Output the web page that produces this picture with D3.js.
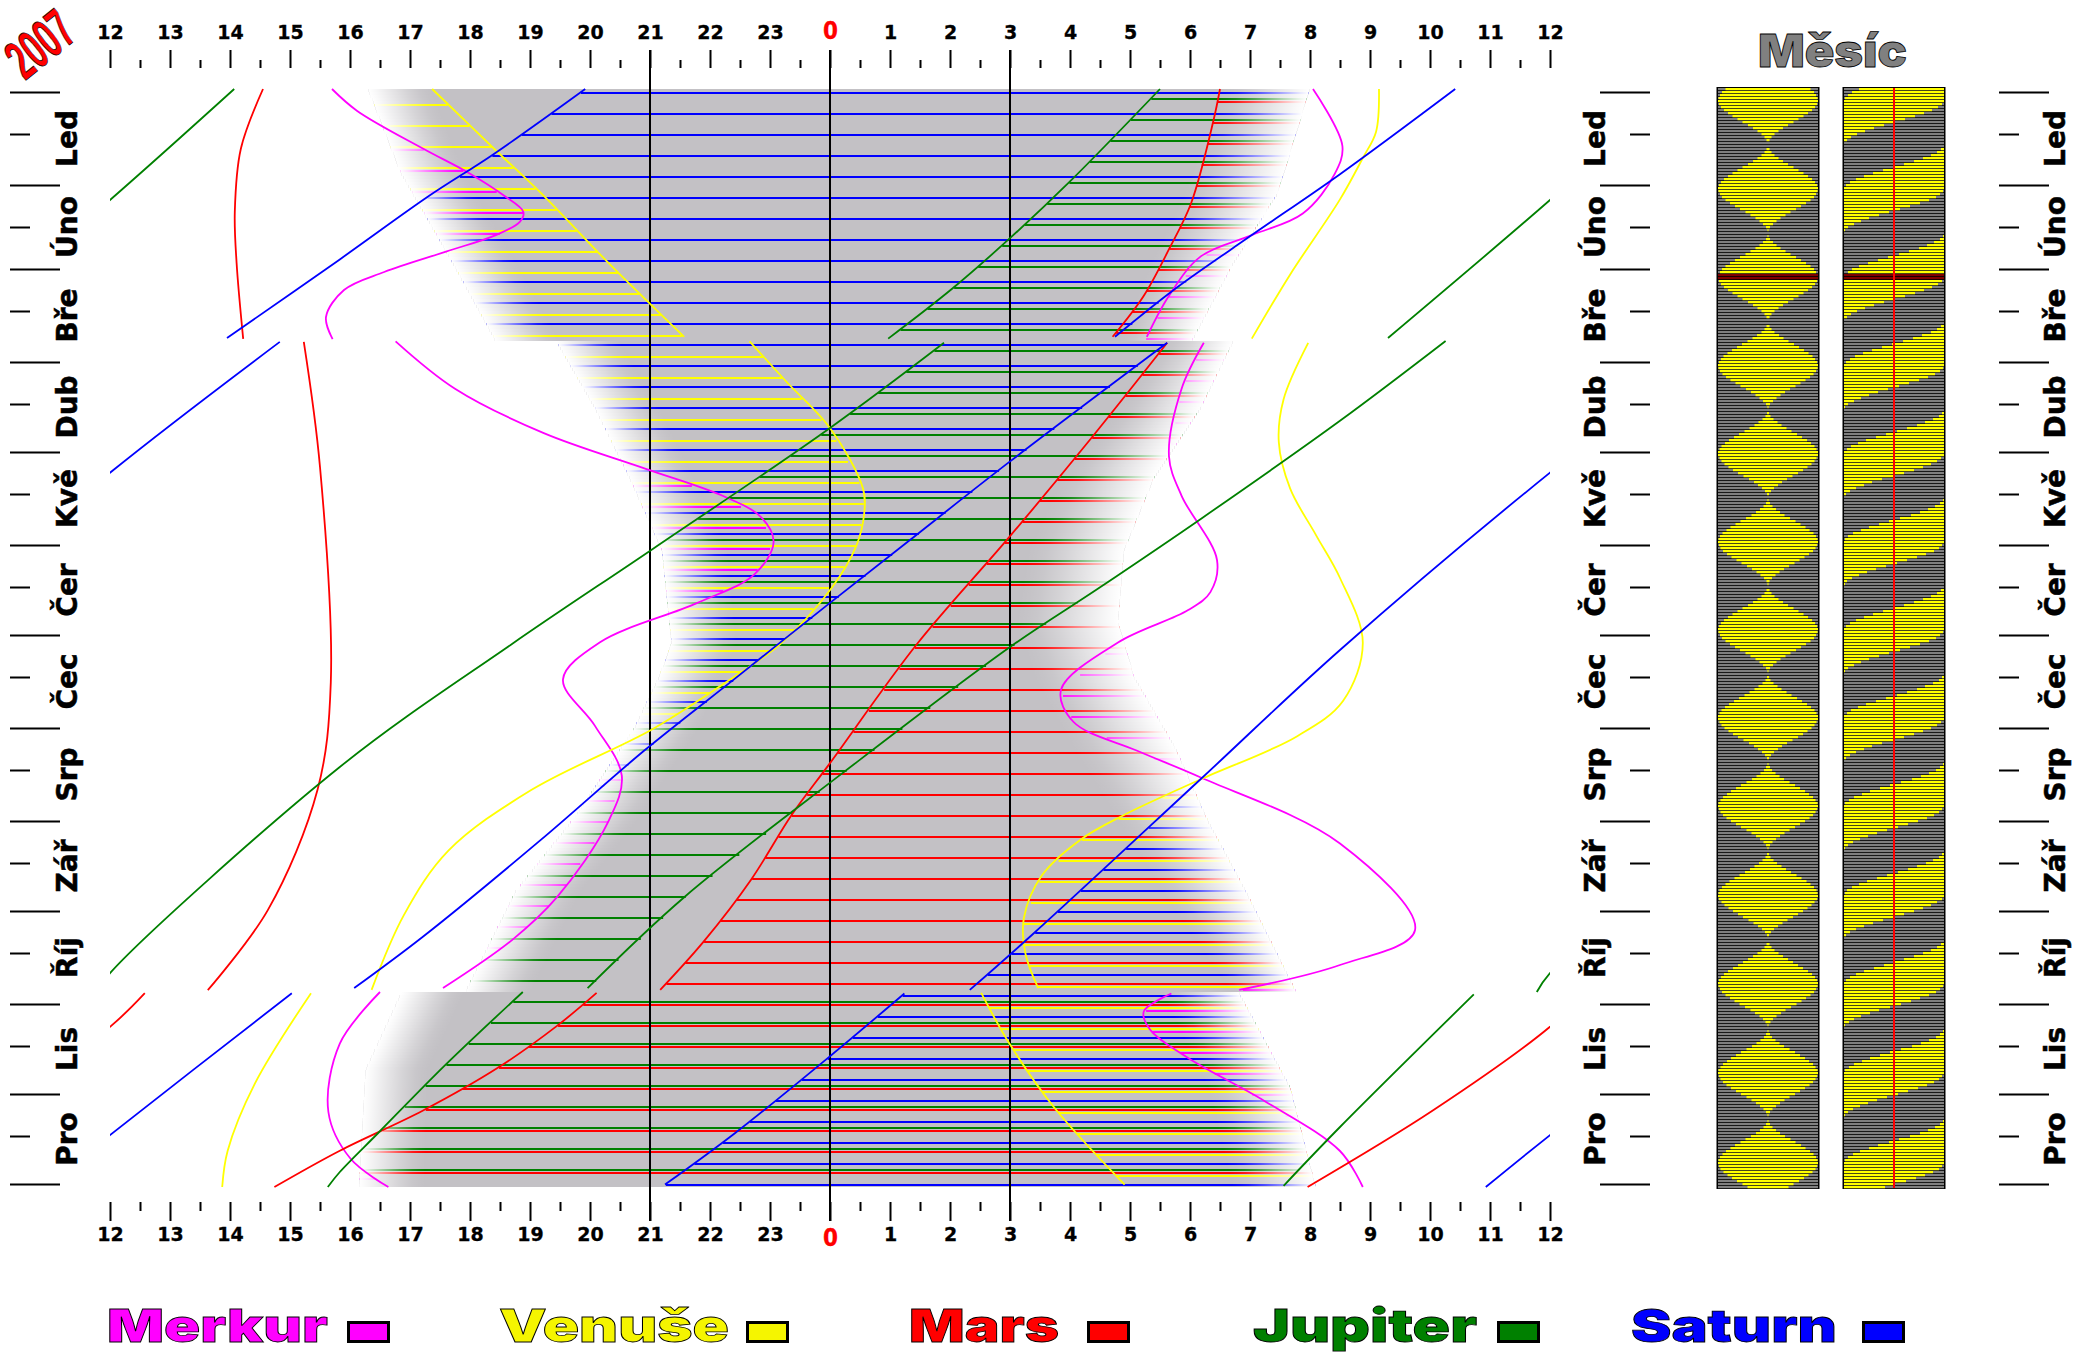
<!DOCTYPE html>
<html><head><meta charset="utf-8">
<script src="https://cdn.jsdelivr.net/npm/d3@7"></script>
<style>html,body{margin:0;padding:0;background:#fff}svg{display:block}text{font-family:"DejaVu Sans",sans-serif;font-weight:bold}</style>
</head><body><svg id="c" width="2096" height="1361"></svg>
<script>
// Hour labels and months
const hourLabels=[12,13,14,15,16,17,18,19,20,21,22,23,0,1,2,3,4,5,6,7,8,9,10,11,12];
const hourTicks=d3.range(-12,13);
const halfTicks=d3.range(-11.5,12,1);
const guideHours=[-3,0,3];
const monthNames=["Led","Úno","Bře","Dub","Kvě","Čer","Čec","Srp","Zář","Říj","Lis","Pro"];
const monthStarts=[0,31,59,90,120,151,181,212,243,273,304,334,364];
const monthMids=[14,45,73,104,134,165,195,226,257,287,318,348];
// Each planet curve: three parts split by the clock change, points are [day of year, hour from midnight]
const saturnRise=[[[-1,-4.08],[20.9,-5.62],[34.6,-6.68],[55.8,-8.17],[82,-10.05]],
 [[83.3,-9.17],[126.9,-12],[186,-15.5],[229,-17.82],[280,-20.58],[299.3,-21.67]],
 [[300.5,1.24],[321.4,0],[347,-1.58],[364.2,-2.75]]];
const saturnSet=[[[-1,10.42],[27.4,8.5],[47.7,7.03],[65.5,5.76],[81.6,4.75]],
 [[83.6,5.62],[123.3,2.99],[150,1.29],[170.3,0],[184.3,-.88],[195.8,-1.6],[219.6,-3.1],[249.3,-4.82],[281.5,-6.78],[298.7,-7.93]],
 [[300.4,-8.97],[347.7,-12],[365,-13.07]]];
const jupiterRise=[[[-1,5.5],[29.8,4],[48.9,2.99],[65.5,2.04],[82.2,.97]],
 [[83.6,1.9],[112,0],[152.4,-2.96],[184,-5.3],[225,-8.17],[293.7,-12],[300,-12.22]],
 [[300,-5.12],[324.3,-6.41],[347,-7.53],[360,-8.17],[365,-8.37]]];
const jupiterSet=[[[-1,-9.93],[36,-12],[82,-14.7]],
 [[83,10.26],[109.6,8.5],[142.3,6.18],[165.5,4.47],[185,3],[226.7,.23],[268.4,-2.43],[298.7,-4.04]],
 [[300.8,10.73],[345,8.5],[364.6,7.56]]];
const marsRise=[[[-1,6.5],[9.6,6.39],[37,6.02],[52.4,5.65],[67.9,5.23],[81.6,4.71]],
 [[83.6,5.62],[115,4.37],[148.3,2.99],[184,1.45],[223.7,0],[241,-.64],[262.4,-1.31],[283.3,-2.11],[299.3,-2.83]],
 [[300.3,-3.89],[311.3,-4.55],[325.2,-5.53],[339.6,-6.79],[352.9,-8.17],[365,-9.26]]];
const marsSet=[[[-1,-9.45],[19,-9.82],[40,-9.92],[57,-9.89],[82.3,-9.78]],
 [[83.3,-8.77],[125,-8.5],[196.8,-8.32],[232.5,-8.54],[272.7,-9.37],[299.4,-10.37]],
 [[300.4,-11.42],[311.6,-12],[339.6,-13.96],[365,-16.04]]];
const venusRise=[[[-1,9.15],[13.3,9.1],[22,8.88],[35.8,8.5],[60.8,7.67],[82.2,7.03]],
 [[83.6,7.97],[102.4,7.56],[116.7,7.48],[132.2,7.67],[147.7,8.1],[162,8.5],[183.5,8.88],[203,8.55],[214.8,7.78],[229.1,6.18],[241,4.9],[249.3,4.17],[261.2,3.53],[275.5,3.23],[287.4,3.26],[298.7,3.47]],
 [[300.3,2.52],[317.2,2.99],[338.6,3.74],[364.2,4.91]]];
const venusSet=[[[-1,-6.63],[18.5,-5.62],[34.6,-4.77],[56.6,-3.71],[81.6,-2.43]],
 [[83.1,-1.34],[96.5,-.73],[112,0],[132.2,.55],[140.5,.57],[151.2,.44],[165.5,.02],[184,-.83],[197.5,-1.79],[212.4,-2.96],[232.7,-4.98],[252.9,-6.36],[274.3,-7.1],[299.3,-7.64]],
 [[300.4,-8.65],[330.7,-9.59],[353,-10.04],[365,-10.13]]];
const mercuryRise=[[[-1,8.05],[18,8.54],[27.4,8.41],[40.5,7.88],[47.7,7.03],[54.8,6.18],[67.9,5.65],[81.6,5.28]],
 [[83.6,6.23],[98.9,5.86],[121.5,5.65],[134.6,5.86],[156,6.45],[166.7,6.34],[172.7,5.97],[183.5,4.8],[199.3,3.85],[210,4.06],[219.6,5.12],[228.5,6.18],[250.5,8.5],[279.4,9.75],[291,8.5],[299.3,6.82]],
 [[300.5,5.69],[306.5,5.23],[312.4,5.33],[322,5.97],[336.3,7.24],[353,8.5],[365,8.88]]];
const mercurySet=[[[-1,-8.3],[6.3,-7.88],[19,-6.77],[27,-6.02],[34.6,-5.43],[40,-5.11],[43.3,-5.17],[47.7,-5.57],[53.2,-6.4],[60,-7.43],[66,-8.1],[75,-8.4],[82.4,-8.29]],
 [[83.1,-7.24],[98.9,-6.25],[113.7,-4.77],[125.6,-3.07],[134.6,-1.79],[141.7,-1.15],[150,-.94],[160.8,-1.26],[170.3,-2.21],[183.5,-3.84],[195.8,-4.45],[211.2,-3.92],[227.9,-3.47],[243.4,-3.7],[268.4,-4.55],[282.7,-5.3],[298.7,-6.45]],
 [[300,-7.5],[317.2,-8.17],[340,-8.36],[355.6,-7.99],[365,-7.36]]];
// Night band per clock part: [day, fade start, solid start]
const eveningEdge=[[[-1,-7.69,-6.63],[26.2,-7.16,-6.1],[57.2,-6.27,-5.2],[83,-5.56,-4.5]],
 [[83,-4.55,-3.5],[104.8,-3.92,-2.85],[128.6,-3.33,-2.25],[152.4,-2.8,-1.7],[183.4,-2.64,-1.55],[194.6,-2.85,-1.8],[212.4,-3.28,-2.2],[242.2,-4.29,-3.2],[266,-5.24,-4.15],[300,-6.09,-5]],
 [[300,-7.15,-6.1],[325.5,-7.74,-6.7],[365,-7.85,-6.75]]];
// Night band per clock part: [day, solid end, fade end]
const morningEdge=[[[-1,6.53,7.99],[33.4,5.9,7.46],[57,5.33,6.71],[83,4.8,6.02]],
 [[83,5.54,6.71],[104.8,4.8,6.18],[128.6,3.85,5.39],[152.4,3.3,4.9],[176,3.1,4.8],[194.6,3.4,5.07],[218.4,4.06,5.76],[242.2,4.8,6.29],[266,5.54,6.93],[300,6.71,7.78]],
 [[300,5.54,6.82],[331.5,6.3,7.67],[365,6.71,8.1]]];
// Lit share of the moon per day row, in percent
const moonLit=[85,92,96,99,100,98,94,88,80,71,61,51,40,30,21,13,7,3,0,
0,3,7,13,21,30,40,51,61,71,80,88,94,98,100,99,96,92,85,76,66,56,45,35,25,17,10,4,1,
0,1,4,10,17,25,35,45,56,66,76,85,92,96,99,100,98,94,88,80,71,61,51,40,30,21,13,7,3,0,
0,3,7,13,22,31,41,52,62,72,81,89,94,98,100,99,96,91,84,75,65,55,44,34,25,17,10,4,1,
0,2,5,11,19,27,37,47,58,68,78,86,93,97,100,100,97,93,87,79,70,60,49,38,28,20,12,6,2,0,
1,4,9,16,24,33,44,55,65,75,83,91,96,99,100,98,95,90,82,73,63,53,42,32,23,15,8,3,1,
0,3,7,13,21,30,40,51,61,71,80,88,94,98,100,99,96,92,85,76,66,56,45,35,25,17,10,4,1,
0,2,5,11,19,27,37,47,58,68,78,86,93,97,100,100,97,93,87,79,70,60,49,38,28,20,12,6,2,0,
1,4,8,15,23,32,43,54,64,74,82,90,95,99,100,98,95,90,83,74,64,54,43,33,24,16,9,4,1,
0,2,5,11,18,27,36,46,57,67,77,85,92,97,99,100,98,93,87,79,70,60,50,39,29,20,12,6,2,0,
0,3,7,13,21,30,40,50,60,70,80,88,94,98,100,99,96,92,85,76,67,57,46,35,26,17,10,5,1,0,
1,4,8,15,23,32,43,54,64,74,82,90,95,99,100,98,95,90,83,74,64,54,43,33,24,16,9,4,1,
0,1,4,9,16,24,34,45,55,66,75,84,91,96,99,100,98,95,89,81,72,62,51,41];
const eclipseRows=[62,63];
const planetNames=["Merkur","Venuše","Mars","Jupiter","Saturn"];
const planetColors=["#ff00ff","#ffff00","#ff0000","#008000","#0000ff"];
const planetRowStart=[5,4,3,2,0];
const planetRise=[mercuryRise,venusRise,marsRise,jupiterRise,saturnRise];
const planetSet=[mercurySet,venusSet,marsSet,jupiterSet,saturnSet];
const legendText=[[107,221],[499,230],[909,150],[1253,224],[1631,206]];
const legendBox=[347,746,1087,1497,1862];
const legendFill=["#ff00ff","#f5f500","#ff0000","#008000","#0000ff"];
const heavy='Inter, "Noto Sans", "DejaVu Sans"';

const svg=d3.select("#c");
const x=d3.scaleLinear().domain([-12,12]).range([110,1550]);
const y=d3.scaleLinear().domain([0,364]).range([92,1184]);
const partOf=d=>d<=82?0:(d<=299?1:2);
const at=(pts,col)=>d3.scaleLinear().domain(pts.map(p=>p[0])).range(pts.map(p=>p[col]));
const wrap=h=>{let v=h;while(v<-12)v+=24;while(v>=12)v-=24;return v;};

const defs=svg.append("defs");
defs.append("clipPath").attr("id","plot").append("rect").attr("x",110).attr("y",85).attr("width",1440).attr("height",1105);
const fadeSteps=[1,.9,.78,.66,.54,.42,.3,.2,.1,.04,0];
function grad(id,rev){const g=defs.append("linearGradient").attr("id",id);
 const list=rev?fadeSteps.slice().reverse():fadeSteps;
 list.forEach((o,i)=>{g.append("stop").attr("offset",(i/(list.length-1)*100)+"%").attr("stop-color","#fff").attr("stop-opacity",o);});}
grad("fl",false);grad("fr",true);

// night band
const days=d3.range(-1,365);
const nightG=svg.append("g");
const ev=eveningEdge.map(p=>[at(p,1),at(p,2)]),mo=morningEdge.map(p=>[at(p,1),at(p,2)]);
nightG.selectAll("rect").data(days).join("rect")
 .attr("x",d=>x(ev[partOf(d)][0](d))).attr("y",d=>y(d)).attr("height",3)
 .attr("width",d=>x(mo[partOf(d)][1](d))-x(ev[partOf(d)][0](d))).attr("fill","#c3c1c5");

// weekly rows of each visible planet
const rowG=svg.append("g");
planetNames.forEach((n,pi)=>{
 const rows=d3.range(planetRowStart[pi],365,7);
 const segs=[];
 rows.forEach(d=>{const p=partOf(d);
  const R=wrap(at(planetRise[pi][p],1)(d)),S=wrap(at(planetSet[pi][p],1)(d));
  const lo=ev[p][0](d),hi=mo[p][1](d);
  const spans=R<S?[[R,S]]:[[-12,S],[R,12]];
  spans.forEach(s=>{const a=Math.max(s[0],lo),b=Math.min(s[1],hi);if(b>a)segs.push({d,a,b});});
 });
 rowG.append("g").selectAll("rect").data(segs).join("rect")
  .attr("x",s=>x(s.a)).attr("y",s=>y(s.d)).attr("width",s=>x(s.b)-x(s.a)).attr("height",2).attr("fill",planetColors[pi]);
});
// twilight fades over band and rows
const fadeG=svg.append("g");
fadeG.append("g").selectAll("rect").data(days).join("rect")
 .attr("x",d=>x(ev[partOf(d)][0](d))).attr("y",d=>y(d)).attr("height",3)
 .attr("width",d=>x(ev[partOf(d)][1](d))-x(ev[partOf(d)][0](d))).attr("fill","url(#fl)");
fadeG.append("g").selectAll("rect").data(days).join("rect")
 .attr("x",d=>x(mo[partOf(d)][0](d))).attr("y",d=>y(d)).attr("height",3)
 .attr("width",d=>x(mo[partOf(d)][1](d))-x(mo[partOf(d)][0](d))).attr("fill","url(#fr)");

// guide lines
svg.append("g").selectAll("line").data(guideHours).join("line")
 .attr("x1",d=>x(d)).attr("x2",d=>x(d)).attr("y1",50).attr("y2",1221).attr("stroke","#000").attr("stroke-width",2);

// curves, drawn at each wrap of the 24 hour strip
const curveG=svg.append("g").attr("clip-path","url(#plot)").attr("fill","none");
const wraps=[-24,0,24];
planetNames.forEach((n,pi)=>{
 [planetRise[pi],planetSet[pi]].forEach(parts=>parts.forEach(pts=>wraps.forEach(w=>{
  const line=d3.line().x(p=>x(p[1]+w)).y(p=>y(p[0])).curve(d3.curveCatmullRom.alpha(.5));
  curveG.append("path").attr("d",line(pts)).attr("stroke",planetColors[pi]).attr("stroke-width",1.8);
 })));
});

// axes
function hourAxis(a,yp,size,short,pad){
 const g=svg.append("g").attr("transform",`translate(0,${yp})`)
  .call(a(x).tickValues(hourTicks).tickSize(size).tickPadding(pad).tickFormat((d,i)=>hourLabels[i]));
 g.select(".domain").remove();
 g.selectAll("line").attr("stroke","#000").attr("stroke-width",2);
 g.selectAll("text").attr("font-size",19).attr("fill","#000").attr("stroke","#000").attr("stroke-width",.3).attr("font-family",'"DejaVu Sans"').attr("font-weight","bold");
 g.selectAll(".tick").filter(d=>d===0).select("text").attr("fill","#ff0000").attr("stroke","#ff0000").attr("font-size",25).attr("textLength",15).attr("lengthAdjust","spacingAndGlyphs");
 const s=svg.append("g").attr("transform",`translate(0,${yp})`)
  .call(a(x).tickValues(halfTicks).tickSize(short).tickFormat(""));
 s.select(".domain").remove();
 s.selectAll("line").attr("stroke","#000").attr("stroke-width",2);
}
hourAxis(d3.axisTop,68,18,8,11);
hourAxis(d3.axisBottom,1202,19,9,7);

function monthAxis(a,xp,base){
 [[monthStarts,50],[monthMids,20]].forEach(([vals,size])=>{
  const g=svg.append("g").attr("transform",`translate(${xp},0)`)
   .call(a(y).tickValues(vals).tickSize(size).tickFormat(""));
  g.select(".domain").remove();
  g.selectAll("line").attr("stroke","#000").attr("stroke-width",2);
 });
 svg.append("g").selectAll("text").data(monthNames).join("text")
  .attr("transform",(m,i)=>`translate(${base},${y((monthStarts[i]+monthStarts[i+1])/2)}) rotate(-90)`)
  .attr("text-anchor","middle").attr("font-size",28).attr("fill","#000").attr("stroke","#000").attr("stroke-width",.5).text(m=>m);
}
monthAxis(d3.axisRight,10,76.5);
monthAxis(d3.axisLeft,1650,1604.5);
monthAxis(d3.axisRight,1999,2064.5);

// moon panels
const moonX=d3.scaleLinear().domain([0,100]);
const rowY=i=>88+3*i;
const rowH=2.2;
const panelLeft=[1718,1844];
panelLeft.forEach((px,side)=>{
 moonX.range([px,px+100]);
 const mx=moonX.copy();
 const g=svg.append("g");
 g.append("rect").attr("x",px-1.5).attr("y",87).attr("width",103).attr("height",1102).attr("fill","#000");
 const rows=moonLit.map((v,i)=>({i,v}));
 g.append("g").selectAll("rect").data(rows).join("rect")
  .attr("x",px).attr("y",r=>rowY(r.i)).attr("width",100).attr("height",rowH)
  .attr("fill",r=>eclipseRows.includes(r.i)?"#800000":"#808080");
 g.append("g").selectAll("rect").data(rows.filter(r=>r.v>0&&!eclipseRows.includes(r.i))).join("rect")
  .attr("y",r=>rowY(r.i)).attr("height",rowH).attr("fill","#ffff00")
  .attr("x",r=>{
    if(side===0)return mx(50-r.v/2);
    const waxing=r.i<moonLit.length-1&&moonLit[r.i+1]>=r.v;
    return waxing?mx(100-r.v):mx(0);
  })
  .attr("width",r=>mx(r.v)-mx(0));
});
svg.append("line").attr("x1",1894).attr("x2",1894).attr("y1",88).attr("y2",1188).attr("stroke","#ff0000").attr("stroke-width",2);
svg.append("text").attr("x",1758).attr("y",67).attr("font-size",46).attr("textLength",149).attr("lengthAdjust","spacingAndGlyphs")
 .style("font-family",heavy).style("font-weight",900)
 .attr("fill","#808080").attr("stroke","#000").attr("stroke-width",.8).text("Měsíc");

// year stamp
svg.append("text").attr("transform","translate(25,81) rotate(-39)").attr("font-size",56)
 .attr("textLength",70).attr("lengthAdjust","spacingAndGlyphs")
 .attr("fill","#ff0000").attr("stroke","#000").attr("stroke-width",.8).style("font-family",'"Liberation Sans"').text("2007");

// legend
const leg=svg.append("g");
planetNames.forEach((n,i)=>{
 leg.append("text").attr("x",legendText[i][0]).attr("y",1342).attr("font-size",46)
  .attr("textLength",legendText[i][1]).attr("lengthAdjust","spacingAndGlyphs")
  .style("font-family",heavy).style("font-weight",900)
  .attr("fill",legendFill[i]).attr("stroke","#000").attr("stroke-width",.8).text(n);
 leg.append("rect").attr("x",legendBox[i]+1.5).attr("y",1322.5).attr("width",40).attr("height",19)
  .attr("fill",legendFill[i]).attr("stroke","#000").attr("stroke-width",3);
});
</script></body></html>
